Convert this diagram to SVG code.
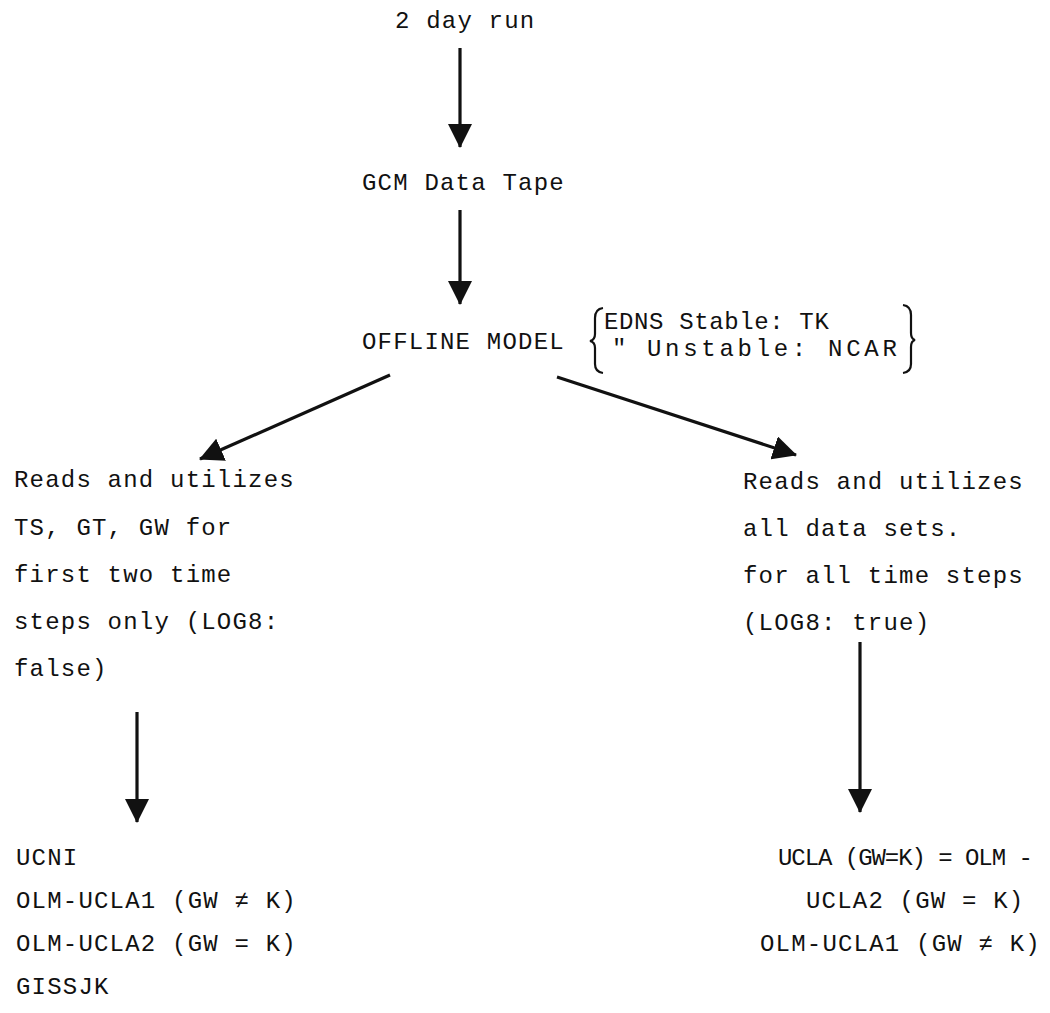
<svg xmlns="http://www.w3.org/2000/svg" width="1050" height="1013" viewBox="0 0 1050 1013">
<style>
.t{font-family:"Liberation Mono","DejaVu Sans Mono",monospace;font-size:24px;letter-spacing:1.2px;fill:#111}
.c{stroke:#111;stroke-width:3.2;fill:none}
.b{stroke:#111;stroke-width:2.2;fill:none}
</style>
<defs>
<marker id="ah" viewBox="0 0 24 24" refX="23" refY="12" markerWidth="24" markerHeight="24" markerUnits="userSpaceOnUse" orient="auto">
<path d="M0,0 L24,12 L0,24 Z" fill="#111"/>
</marker>
</defs>
<rect width="1050" height="1013" fill="#fff"/>
<g id="connectors">
<line class="c" x1="460" y1="48" x2="460" y2="147" marker-end="url(#ah)"/>
<line class="c" x1="460" y1="210" x2="460" y2="304" marker-end="url(#ah)"/>
<line class="c" x1="390" y1="375" x2="200" y2="459" marker-end="url(#ah)"/>
<line class="c" x1="557" y1="377" x2="796" y2="455" marker-end="url(#ah)"/>
<line class="c" x1="137" y1="712" x2="137" y2="822" marker-end="url(#ah)"/>
<line class="c" x1="860" y1="642" x2="860" y2="812" marker-end="url(#ah)"/>
</g>
<g id="n-run"><text class="t" x="395" y="28">2 day run</text></g>
<g id="n-tape"><text class="t" x="362" y="190">GCM Data Tape</text></g>
<g id="n-offline">
<text class="t" x="362" y="349">OFFLINE MODEL</text>
<path class="b" d="M603,308 Q595,309 595,318 L595,334 Q595,340 590,341 Q595,342 595,348 L595,364 Q595,372 603,373"/>
<text class="t" x="604" y="329" textLength="226" lengthAdjust="spacing">EDNS Stable: TK</text>
<text class="t" x="612" y="356">"</text>
<text class="t" x="647" y="356" textLength="251" lengthAdjust="spacing">Unstable: NCAR</text>
<path class="b" d="M903,305 Q911,306 911,315 L911,333 Q911,339 915,340 Q911,341 911,347 L911,364 Q911,372 903,373"/>
</g>
<g id="n-left">
<text class="t" x="14" y="487">Reads and utilizes</text>
<text class="t" x="14" y="535">TS, GT, GW for</text>
<text class="t" x="14" y="582">first two time</text>
<text class="t" x="14" y="629">steps only (LOG8:</text>
<text class="t" x="14" y="676">false)</text>
</g>
<g id="n-right">
<text class="t" x="743" y="489">Reads and utilizes</text>
<text class="t" x="743" y="536">all data sets.</text>
<text class="t" x="743" y="583">for all time steps</text>
<text class="t" x="743" y="630">(LOG8: true)</text>
</g>
<g id="n-left-out">
<text class="t" x="16" y="865">UCNI</text>
<text class="t" x="16" y="908">OLM-UCLA1 (GW ≠ K)</text>
<text class="t" x="16" y="951">OLM-UCLA2 (GW = K)</text>
<text class="t" x="16" y="994">GISSJK</text>
</g>
<g id="n-right-out">
<text class="t" x="778" y="865" textLength="256" lengthAdjust="spacing">UCLA (GW=K) = OLM -</text>
<text class="t" x="806" y="908">UCLA2 (GW = K)</text>
<text class="t" x="760" y="951">OLM-UCLA1 (GW ≠ K)</text>
</g>
</svg>
